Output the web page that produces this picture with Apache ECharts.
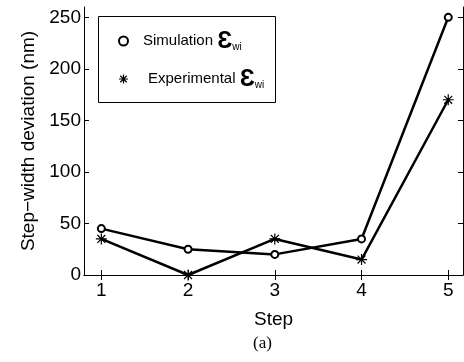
<!DOCTYPE html>
<html>
<head>
<meta charset="utf-8">
<script src="https://cdn.jsdelivr.net/npm/echarts@6/dist/echarts.min.js"></script>
<style>
  html, body { margin: 0; padding: 0; background: #fff; }
  #main { width: 464px; height: 362px; }
</style>
</head>
<body>
<div id="main"></div>
<script>
// data
var steps = [1, 2, 3, 4, 5];
var simulation = [45, 25, 20, 35, 250];
var experimental = [35, 0, 35, 15, 170];
var yTicks = [0, 50, 100, 150, 200, 250];

var font = 'Liberation Sans, Arial, sans-serif';
var starPath = 'path://M0,-5L0,5M-5,0L5,0M-3.6,-3.6L3.6,3.6M-3.6,3.6L3.6,-3.6';

function pairs(ys) {
  return steps.map(function (s, i) { return [s, ys[i]]; });
}

var chart = echarts.init(document.getElementById('main'));

var tickInside = { inside: true, length: 5, lineStyle: { color: '#000', width: 1 } };

var option = {
  backgroundColor: '#fff',
  animation: false,
  grid: { left: 84, right: 1, top: 7, bottom: 87 },
  title: {
    text: '(a)',
    left: 248,
    top: 330,
    textStyle: { fontFamily: 'Liberation Serif, DejaVu Serif, serif', fontWeight: 'normal', fontSize: 17, color: '#000' }
  },
  xAxis: [{
    type: 'value', min: 0.8, max: 5.17, position: 'bottom',
    name: 'Step', nameLocation: 'middle', nameGap: 35,
    nameTextStyle: { fontFamily: font, fontSize: 19, color: '#000' },
    axisLine: { lineStyle: { color: '#000', width: 1 } },
    axisTick: Object.assign({ customValues: steps }, tickInside),
    axisLabel: { customValues: steps, fontFamily: font, fontSize: 19, color: '#000', margin: 6 },
    splitLine: { show: false }
  }, {
    type: 'value', min: 0.8, max: 5.17, position: 'top',
    axisLine: { lineStyle: { color: '#000', width: 1 } },
    axisTick: Object.assign({ customValues: steps }, tickInside),
    axisLabel: { show: false },
    splitLine: { show: false }
  }],
  yAxis: [{
    type: 'value', min: 0, max: 260, position: 'left',
    name: 'Step\u2212width deviation (nm)', nameLocation: 'middle', nameGap: 46,
    nameTextStyle: { fontFamily: font, fontSize: 19, color: '#000' },
    axisLine: { show: true, lineStyle: { color: '#000', width: 1 } },
    axisTick: Object.assign({ show: true, customValues: yTicks }, tickInside),
    axisLabel: { customValues: yTicks, fontFamily: font, fontSize: 19, color: '#000', margin: 3 },
    splitLine: { show: false }
  }, {
    type: 'value', min: 0, max: 260, position: 'right',
    axisLine: { show: true, lineStyle: { color: '#000', width: 1 } },
    axisTick: Object.assign({ show: true, customValues: yTicks }, tickInside),
    axisLabel: { show: false },
    splitLine: { show: false }
  }],
  graphic: [{
    type: 'rect', left: 98, top: 16, z: 50,
    shape: { width: 177, height: 86 },
    style: { fill: '#fff', stroke: '#000', lineWidth: 1 }
  }],
  legend: {
    orient: 'vertical', left: 113, top: 24, z: 60, itemGap: 14,
    itemWidth: 9, itemHeight: 9,
    textStyle: {
      fontFamily: font, fontSize: 14, color: '#000',
      rich: {
        t: { fontFamily: font, fontSize: 15, color: '#000', padding: [0, 0, 0, 10] },
        u: { fontFamily: font, fontSize: 15, color: '#000', padding: [0, 0, 0, 15] },
        e: { fontFamily: font, fontSize: 24, fontWeight: 'bold', color: '#000' },
        s: { fontFamily: font, fontSize: 10, color: '#000', padding: [12, 0, 0, 0] }
      }
    },
    formatter: function (name) {
      if (name === 'Simulation') return '{t|Simulation }{e|\u0190}{s|wi}';
      return '{u|Experimental }{e|\u0190}{s|wi}';
    },
    data: [
      { name: 'Simulation', icon: 'emptyCircle', itemStyle: { color: '#000', borderColor: '#000', borderWidth: 1 } },
      { name: 'Experimental', icon: starPath, itemStyle: { color: '#000', borderColor: '#000', borderWidth: 1.2 } }
    ]
  },
  series: [{
    name: 'Simulation', type: 'line', data: pairs(simulation),
    symbol: 'emptyCircle', symbolSize: 7,
    lineStyle: { color: '#000', width: 2.5 },
    itemStyle: { color: '#000', borderColor: '#000', borderWidth: 1 }
  }, {
    name: 'Experimental', type: 'line', data: pairs(experimental),
    symbol: starPath, symbolSize: 11,
    lineStyle: { color: '#000', width: 2.5 },
    itemStyle: { color: '#000', borderColor: '#000', borderWidth: 1.2 }
  }]
};

chart.setOption(option);
</script>
</body>
</html>
